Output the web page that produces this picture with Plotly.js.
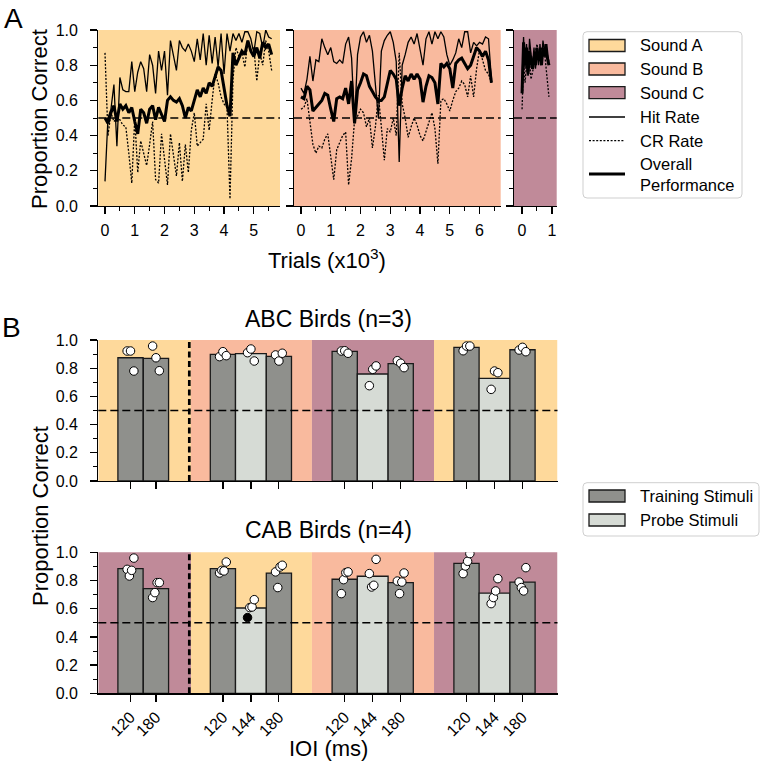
<!DOCTYPE html>
<html><head><meta charset="utf-8">
<script src="https://cdn.plot.ly/plotly-3.0.1.min.js"></script>
<style>html,body{margin:0;padding:0;background:#fff}#chart{width:762px;height:768px}</style>
</head><body><div id="chart"></div>
<script>
// ---------- DATA: panel A (trials in thousands) ----------
const trials1 = [0,0.1,0.2,0.3,0.4,0.5,0.6,0.7,0.8,0.9,1.0,1.1,1.2,1.3,1.4,1.5,1.6,1.7,1.8,1.9,2.0,2.1,2.2,2.3,2.4,2.5,2.6,2.7,2.8,2.9,3.0,3.1,3.2,3.3,3.4,3.5,3.6,3.7,3.8,3.9,4.0,4.1,4.2,4.3,4.4,4.5,4.6,4.7,4.8,4.9,5.0,5.1,5.2,5.3,5.4,5.5,5.6];
const hitA = [0.14,0.50,0.55,0.69,0.34,0.73,0.66,0.65,0.65,0.82,0.65,0.76,0.82,0.78,0.65,0.86,0.80,0.64,0.88,0.77,0.88,0.63,0.94,0.85,0.77,0.94,0.90,0.88,0.92,0.88,0.82,0.95,0.83,0.98,0.80,0.97,0.81,0.96,0.79,0.98,0.75,0.98,0.88,0.98,0.94,0.98,0.93,0.99,0.99,0.95,0.87,0.99,0.98,0.90,1.00,0.96,0.95];
const crA = [0.87,0.40,0.53,0.48,0.50,0.49,0.46,0.45,0.30,0.13,0.50,0.19,0.37,0.30,0.23,0.35,0.48,0.15,0.13,0.41,0.28,0.12,0.41,0.30,0.17,0.36,0.14,0.35,0.19,0.43,0.53,0.34,0.36,0.38,0.58,0.43,0.60,0.75,0.70,0.62,0.58,0.56,0.04,0.72,0.90,0.85,0.87,0.79,0.94,0.88,0.90,0.71,0.87,0.80,0.94,0.88,0.77];
const overallA = [0.50,0.47,0.53,0.57,0.48,0.58,0.55,0.57,0.53,0.56,0.48,0.41,0.55,0.53,0.47,0.55,0.57,0.49,0.56,0.52,0.48,0.60,0.62,0.60,0.59,0.61,0.57,0.50,0.56,0.54,0.60,0.66,0.62,0.67,0.64,0.70,0.68,0.74,0.79,0.77,0.66,0.57,0.51,0.87,0.80,0.84,0.88,0.86,0.94,0.88,0.85,0.90,0.84,0.93,0.90,0.92,0.86];

const trials2 = [0,0.1,0.2,0.3,0.4,0.5,0.6,0.7,0.8,0.9,1.0,1.1,1.2,1.3,1.4,1.5,1.6,1.7,1.8,1.9,2.0,2.1,2.2,2.3,2.4,2.5,2.6,2.7,2.8,2.9,3.0,3.1,3.2,3.3,3.4,3.5,3.6,3.7,3.8,3.9,4.0,4.1,4.2,4.3,4.4,4.5,4.6,4.7,4.8,4.9,5.0,5.1,5.2,5.3,5.4,5.5,5.6,5.7,5.8,5.9,6.0,6.1,6.2,6.3,6.4];
const hitB = [0.67,0.64,0.72,0.85,0.71,0.83,0.82,0.95,0.90,0.86,0.90,0.82,0.81,0.83,0.81,0.92,0.96,0.84,0.47,0.86,0.96,0.99,0.93,0.97,0.88,0.70,0.50,0.88,0.94,0.97,0.99,0.93,0.82,0.25,0.80,0.86,0.93,0.96,0.92,0.98,0.90,0.80,0.95,0.99,0.92,0.99,0.95,0.99,0.96,0.86,0.80,0.83,0.87,0.95,0.90,0.99,0.99,0.87,0.93,0.91,0.93,0.92,0.96,0.95,0.72];
const crB = [0.55,0.56,0.61,0.48,0.35,0.30,0.34,0.33,0.38,0.41,0.28,0.15,0.32,0.36,0.40,0.42,0.12,0.27,0.49,0.51,0.55,0.53,0.45,0.50,0.33,0.45,0.63,0.45,0.26,0.44,0.42,0.50,0.40,0.87,0.58,0.50,0.39,0.45,0.50,0.46,0.40,0.37,0.42,0.48,0.53,0.44,0.24,0.60,0.61,0.58,0.54,0.60,0.65,0.67,0.71,0.69,0.62,0.74,0.62,0.78,0.89,0.83,0.77,0.75,0.70];
const overallB = [0.62,0.61,0.68,0.66,0.54,0.56,0.58,0.60,0.64,0.63,0.55,0.48,0.61,0.62,0.61,0.67,0.58,0.71,0.47,0.66,0.70,0.75,0.74,0.68,0.65,0.62,0.60,0.60,0.62,0.70,0.77,0.75,0.72,0.57,0.67,0.74,0.71,0.75,0.72,0.75,0.72,0.59,0.68,0.74,0.73,0.70,0.58,0.81,0.79,0.81,0.78,0.67,0.81,0.83,0.84,0.81,0.78,0.80,0.85,0.90,0.88,0.85,0.88,0.83,0.70];

const trials3 = [0,0.05,0.1,0.15,0.2,0.25,0.3,0.35,0.4,0.45,0.5,0.55,0.6,0.65,0.7,0.75,0.8,0.85,0.9];
const hitC = [0.72,0.96,0.78,0.92,0.74,0.95,0.86,0.80,0.90,0.78,0.88,0.80,0.92,0.82,0.94,0.88,0.90,0.86,0.82];
const crC = [0.55,0.83,0.70,0.80,0.74,0.82,0.72,0.76,0.80,0.87,0.92,0.85,0.82,0.90,0.86,0.88,0.80,0.70,0.62];
const overallC = [0.64,0.93,0.80,0.90,0.75,0.88,0.82,0.78,0.85,0.80,0.90,0.83,0.87,0.80,0.90,0.85,0.92,0.84,0.80];

// ---------- DATA: panel B ----------
const barIOI = ['120','180','120','144','180','120','144','180','120','144','180'];
const barKind = ['train','train','train','probe','train','train','probe','train','train','probe','train'];
const abcMeans = [0.874,0.870,0.898,0.903,0.884,0.920,0.759,0.832,0.948,0.728,0.931];
const abcBird1 = [0.922,0.957,0.882,0.910,0.894,0.922,0.676,0.853,0.924,0.650,0.929];
const abcBird2 = [0.922,0.874,0.917,0.936,0.851,0.924,0.792,0.835,0.957,0.780,0.948];
const abcBird3 = [0.780,0.782,0.889,0.851,0.906,0.906,0.816,0.804,0.957,0.768,0.917];
const cabMeans = [0.884,0.742,0.884,0.605,0.853,0.809,0.830,0.785,0.922,0.711,0.789];
const cabBird1 = [0.879,0.679,0.853,0.537,0.861,0.707,0.849,0.796,0.849,0.636,0.789];
const cabBird2 = [0.832,0.714,0.872,0.608,0.750,0.806,0.754,0.707,0.903,0.679,0.750];
const cabBird3 = [0.872,0.785,0.868,0.612,0.896,0.856,0.766,0.789,0.936,0.726,0.726];
const cabBird4 = [0.959,0.785,0.931,0.664,0.908,0.861,0.950,0.853,0.991,0.813,0.891];
const cabBird1Below = [false,false,false,true,false,false,false,false,false,false,false];
const abcSounds = ['A','B','C','A'];
const cabSounds = ['C','A','B','C'];

// ---------- STYLE / LAYOUT ----------
const FONT = 'Liberation Sans, Arial, Helvetica, sans-serif';
const W = 762, H = 768;
const px = v => v / W, py = v => 1 - v / H;
const soundColor = {A:'#FED99B', B:'#F9BA9E', C:'#C08A99'};
const kindColor = {train:'#8F908C', probe:'#D6DBD5'};
const slotPos = [1.15,2.06,4.45,5.45,6.45,8.8,9.8,10.8,13.15,14.15,15.15];
const slotWidth = {train:0.9, probe:1.1};
const sectionEdges = [0,3.31,7.63,11.99,16.4];
const jitter3 = [-0.12,0,0.12];
const jitter4 = [-0.12,-0.04,0.04,0.12];

const traces = [];
function addLines(xa, ya, t, hit, cr, ov) {
  traces.push({x:t, y:hit, xaxis:xa, yaxis:ya, type:'scatter', mode:'lines', line:{color:'#000', width:1.3}, hoverinfo:'skip'});
  traces.push({x:t, y:cr, xaxis:xa, yaxis:ya, type:'scatter', mode:'lines', line:{color:'#000', width:1.3, dash:'2px,1.6px'}, hoverinfo:'skip'});
  traces.push({x:t, y:ov, xaxis:xa, yaxis:ya, type:'scatter', mode:'lines', line:{color:'#000', width:3}, hoverinfo:'skip'});
}
addLines('x','y',trials1,hitA,crA,overallA);
addLines('x2','y2',trials2,hitB,crB,overallB);
addLines('x3','y3',trials3,hitC,crC,overallC);

function addBars(xa, ya, means, birds, jit, belowFlags) {
  traces.push({type:'bar', x:slotPos, y:means, xaxis:xa, yaxis:ya,
    width:barKind.map(k => slotWidth[k]),
    marker:{color:barKind.map(k => kindColor[k]), line:{color:'#1a1a1a', width:1.3}}, hoverinfo:'skip'});
  birds.forEach((b, i) => {
    const colors = b.map((v, j) => (belowFlags && i === 0 && belowFlags[j]) ? '#000' : '#fff');
    traces.push({type:'scatter', mode:'markers', x:slotPos.map(p => p + jit[i]), y:b, xaxis:xa, yaxis:ya,
      marker:{size:8.5, color:colors, line:{color:'#000', width:1}}, hoverinfo:'skip'});
  });
}
addBars('x4','y4',abcMeans,[abcBird1,abcBird2,abcBird3],jitter3,null);
addBars('x5','y5',cabMeans,[cabBird1,cabBird2,cabBird3,cabBird4],jitter4,cabBird1Below);

const tickFont = {family:FONT, size:16, color:'#000'};
function yAx(domain, labels, anchor) {
  return {domain, range:[0,1], anchor, showline:true, linecolor:'#000', linewidth:1.2,
    ticks:'outside', ticklen:7, tickwidth:1.2, tickcolor:'#000', tick0:0, dtick:0.2, tickformat:'.1f',
    showticklabels:labels, tickfont:tickFont, ticklabelstandoff:9,
    minor:{dtick:0.1, ticks:'outside', ticklen:4, tickwidth:1, tickcolor:'#000'},
    showgrid:false, zeroline:false, fixedrange:true};
}
function xAxA(domain, range, anchor) {
  return {domain, range, anchor, showline:true, linecolor:'#000', linewidth:1.2,
    ticks:'outside', ticklen:7, tickwidth:1.2, tickcolor:'#000', tick0:0, dtick:1,
    tickfont:tickFont, ticklabelstandoff:3,
    minor:{dtick:0.5, ticks:'outside', ticklen:4, tickwidth:1, tickcolor:'#000'},
    showgrid:false, zeroline:false, fixedrange:true};
}
function xAxB(anchor, labels) {
  return {domain:[px(98.3), px(557.5)], range:[sectionEdges[0], sectionEdges[4]], anchor,
    showline:true, linecolor:'#000', linewidth:1.2, ticks:'outside', ticklen:7, tickwidth:1.2, tickcolor:'#000',
    tickmode:'array', tickvals:slotPos, ticktext:barIOI, tickangle:-45, showticklabels:labels,
    tickfont:tickFont, showgrid:false, zeroline:false, fixedrange:true};
}
const domA = [py(206), py(30)];
const domB1 = [py(481), py(340)];
const domB2 = [py(693.3), py(552.3)];

const shapes = [];
[['x','y','A'],['x2','y2','B'],['x3','y3','C']].forEach(([xa,ya,s]) => {
  shapes.push({type:'rect', xref:xa+' domain', yref:ya+' domain', x0:0, x1:1, y0:0, y1:1, fillcolor:soundColor[s], line:{width:0}, layer:'below'});
  shapes.push({type:'line', xref:xa+' domain', yref:ya, x0:0, x1:1, y0:0.5, y1:0.5, line:{color:'#000', width:1.4, dash:'8px,4px'}, layer:'above'});
});
[['x4','y4',abcSounds],['x5','y5',cabSounds]].forEach(([xa,ya,snd]) => {
  snd.forEach((s, i) => {
    shapes.push({type:'rect', xref:xa, yref:ya+' domain', x0:sectionEdges[i], x1:sectionEdges[i+1], y0:0, y1:1, fillcolor:soundColor[s], line:{width:0}, layer:'below'});
  });
  shapes.push({type:'line', xref:xa+' domain', yref:ya, x0:0, x1:1, y0:0.5, y1:0.5, line:{color:'#000', width:1.4, dash:'8px,4px'}, layer:'above'});
  shapes.push({type:'line', xref:xa, yref:ya+' domain', x0:3.25, x1:3.25, y0:0, y1:1, line:{color:'#000', width:2.7, dash:'6px,3.5px'}, layer:'above'});
});

function roundRect(x0,y0,x1,y1,r) {
  const rx = r / W, ry = r / H;
  const X0 = px(x0), X1 = px(x1), Y0 = py(y0), Y1 = py(y1);
  return `M ${X0+rx},${Y0} L ${X1-rx},${Y0} Q ${X1},${Y0} ${X1},${Y0-ry} L ${X1},${Y1+ry} Q ${X1},${Y1} ${X1-rx},${Y1} L ${X0+rx},${Y1} Q ${X0},${Y1} ${X0},${Y1+ry} L ${X0},${Y0-ry} Q ${X0},${Y0} ${X0+rx},${Y0} Z`;
}
shapes.push({type:'path', xref:'paper', yref:'paper', path:roundRect(583,31.7,742,198,4), fillcolor:'#fff', line:{color:'#cfcfcf', width:1}});
shapes.push({type:'path', xref:'paper', yref:'paper', path:roundRect(583,482.7,759,536,4), fillcolor:'#fff', line:{color:'#cfcfcf', width:1}});

const annotations = [];
function txt(text, x, y, size, opts) {
  annotations.push(Object.assign({text, x:px(x), y:py(y), xref:'paper', yref:'paper', showarrow:false,
    xanchor:'center', yanchor:'middle', font:{family:FONT, size, color:'#000'}}, opts || {}));
}
function swatch(y, color) {
  shapes.push({type:'rect', xref:'paper', yref:'paper', x0:px(589), x1:px(625), y0:py(y+6), y1:py(y-6), fillcolor:color, line:{color:'#1a1a1a', width:1.3}});
}
function lineSample(y, width, dash) {
  shapes.push({type:'line', xref:'paper', yref:'paper', x0:px(589), x1:px(625), y0:py(y), y1:py(y), line:{color:'#000', width, dash}});
}
const legA = [['Sound A',45.5],['Sound B',69],['Sound C',92.7],['Hit Rate',117],['CR Rate',140.7],['Overall<br>Performance',174]];
swatch(45.5, soundColor.A); swatch(69, soundColor.B); swatch(92.7, soundColor.C);
lineSample(117, 1.3, 'solid'); lineSample(140.7, 1.3, '2px,1.6px'); lineSample(174, 3, 'solid');
legA.forEach(([t,y]) => txt(t, 638, y, 16.5, {xanchor:'left', align:'left'}));
swatch(496, kindColor.train); swatch(520, kindColor.probe);
txt('Training Stimuli', 638, 496, 16.5, {xanchor:'left'});
txt('Probe Stimuli', 638, 520, 16.5, {xanchor:'left'});

txt('A', 13, 18, 28);
txt('B', 11, 328, 28);
txt('Proportion Correct', 40, 119, 22, {textangle:-90});
txt('Proportion Correct', 40, 516, 22, {textangle:-90});
txt('Trials (x10<sup>3</sup>)', 327, 259, 22);
txt('ABC Birds (n=3)', 328, 319, 23);
txt('CAB Birds (n=4)', 328, 530, 23);
txt('IOI (ms)', 328, 748, 22);

const layout = {
  width:W, height:H, margin:{l:0,r:0,t:0,b:0}, paper_bgcolor:'#fff', plot_bgcolor:'rgba(0,0,0,0)',
  showlegend:false, barmode:'overlay', font:{family:FONT, color:'#000'},
  xaxis: xAxA([px(98.3), px(280)], [-0.225, 5.88], 'y'),
  xaxis2: xAxA([px(294), px(500.7)], [-0.235, 6.71], 'y2'),
  xaxis3: xAxA([px(514), px(556.7)], [-0.27, 1.16], 'y3'),
  yaxis: yAx(domA, true, 'x'),
  yaxis2: yAx(domA, false, 'x2'),
  yaxis3: yAx(domA, false, 'x3'),
  xaxis4: xAxB('y4', false),
  yaxis4: yAx(domB1, true, 'x4'),
  xaxis5: xAxB('y5', true),
  yaxis5: yAx(domB2, true, 'x5'),
  shapes, annotations
};
Plotly.newPlot('chart', traces, layout, {staticPlot:true, displayModeBar:false});
</script></body></html>
